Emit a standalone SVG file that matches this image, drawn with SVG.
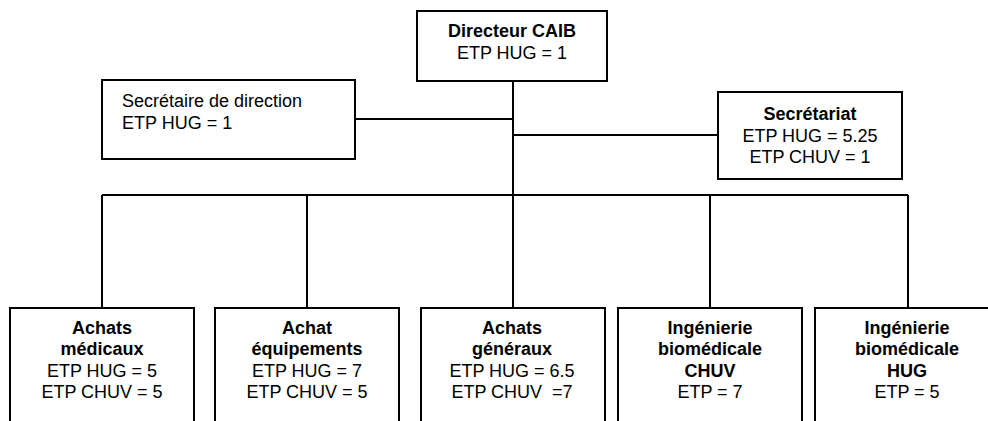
<svg xmlns="http://www.w3.org/2000/svg" width="988" height="421" viewBox="0 0 988 421">
<style>
.box{fill:#fff;stroke:#000;stroke-width:2}
.ln{fill:none;stroke:#000;stroke-width:2}
text{font-family:"Liberation Sans",Arial,sans-serif;font-size:18px;fill:#000}
.c{text-anchor:middle}
.b{font-weight:bold}
</style>
<rect width="988" height="421" fill="#fff"/>
<g id="connectors">
<path class="ln" d="M513 81V195"/>
<path class="ln" d="M355 119H513"/>
<path class="ln" d="M513 135H718"/>
<path class="ln" d="M102 195H908"/>
<path class="ln" d="M102 195V308M307 195V308M513 195V308M710 195V308M908 195V308"/>
</g>
<g id="directeur">
<rect class="box" x="417" y="11" width="190" height="70"/>
<text class="c b" x="512" y="37">Directeur CAIB</text>
<text class="c" x="512" y="59">ETP HUG = 1</text>
</g>
<g id="secretaire">
<rect class="box" x="102" y="80" width="253" height="79"/>
<text x="122" y="107">Secrétaire de direction</text>
<text x="122" y="129">ETP HUG = 1</text>
</g>
<g id="secretariat">
<rect class="box" x="718" y="92" width="184" height="87"/>
<text class="c b" x="810" y="120">Secrétariat</text>
<text class="c" x="810" y="142">ETP HUG = 5.25</text>
<text class="c" x="810" y="163">ETP CHUV = 1</text>
</g>
<g id="achats-medicaux">
<rect class="box" x="10" y="308" width="184" height="130"/>
<text class="c b" x="102" y="334">Achats</text>
<text class="c b" x="102" y="355">médicaux</text>
<text class="c" x="102" y="377">ETP HUG = 5</text>
<text class="c" x="102" y="398">ETP CHUV = 5</text>
</g>
<g id="achat-equipements">
<rect class="box" x="215" y="308" width="184" height="130"/>
<text class="c b" x="307" y="334">Achat</text>
<text class="c b" x="307" y="355">équipements</text>
<text class="c" x="307" y="377">ETP HUG = 7</text>
<text class="c" x="307" y="398">ETP CHUV = 5</text>
</g>
<g id="achats-generaux">
<rect class="box" x="421" y="308" width="184" height="130"/>
<text class="c b" x="512" y="334">Achats</text>
<text class="c b" x="512" y="355">généraux</text>
<text class="c" x="512" y="377">ETP HUG = 6.5</text>
<text class="c" x="512" y="398" xml:space="preserve">ETP CHUV  =7</text>
</g>
<g id="ingenierie-chuv">
<rect class="box" x="618" y="308" width="184" height="130"/>
<text class="c b" x="710" y="334">Ingénierie</text>
<text class="c b" x="710" y="355">biomédicale</text>
<text class="c b" x="710" y="377">CHUV</text>
<text class="c" x="710" y="398">ETP = 7</text>
</g>
<g id="ingenierie-hug">
<rect class="box" x="815" y="308" width="184" height="130"/>
<text class="c b" x="907" y="334">Ingénierie</text>
<text class="c b" x="907" y="355">biomédicale</text>
<text class="c b" x="907" y="377">HUG</text>
<text class="c" x="907" y="398">ETP = 5</text>
</g>
</svg>
